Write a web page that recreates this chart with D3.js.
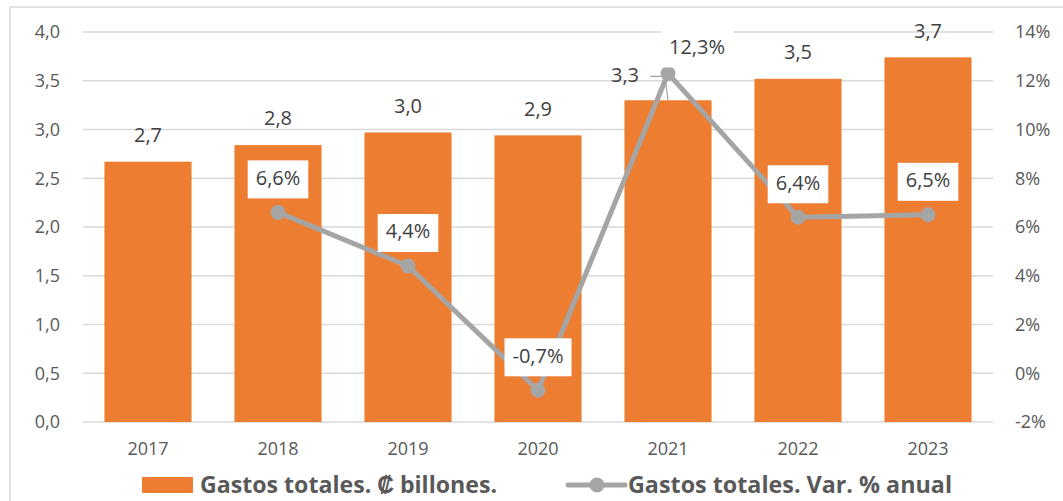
<!DOCTYPE html>
<html>
<head>
<meta charset="utf-8">
<script src="https://cdn.jsdelivr.net/npm/d3@7"></script>
<style>
  body { margin: 0; background: #fff; }
  text { font-family: "Open Sans", "Liberation Sans", Arial, sans-serif; }
</style>
</head>
<body>
<svg id="chart"></svg>
<script>
const years = ["2017", "2018", "2019", "2020", "2021", "2022", "2023"];
const gastos = [2.67, 2.84, 2.97, 2.94, 3.30, 3.52, 3.74];
const gastosLabels = ["2,7", "2,8", "3,0", "2,9", "3,3", "3,5", "3,7"];
const variacion = [null, 6.6, 4.4, -0.7, 12.3, 6.4, 6.5];
const variacionLabels = ["", "6,6%", "4,4%", "-0,7%", "12,3%", "6,4%", "6,5%"];
const leftTicks = [0, 0.5, 1, 1.5, 2, 2.5, 3, 3.5, 4];
const rightTicks = [-2, 0, 2, 4, 6, 8, 10, 12, 14];

const width = 1063;
const height = 501;
const orange = "#ed7d31";
const gray = "#a5a5a5";
const font = "Open Sans, Liberation Sans, Arial, sans-serif";

const svg = d3.select("#chart")
    .attr("width", width)
    .attr("height", height);

// marco del grafico
svg.append("path")
    .attr("d", `M10,${height} L10,7 L${width},7`)
    .attr("fill", "none")
    .attr("stroke", "#d9d9d9")
    .attr("stroke-width", 1.5);

const xScale = d3.scaleBand()
    .domain(years)
    .range([83, 993])
    .paddingInner(0.33)
    .paddingOuter(0.165);

const yLeft = d3.scaleLinear()
    .domain([0, 4])
    .range([422, 32]);

const yRight = d3.scaleLinear()
    .domain([-2, 14])
    .range([422, 32]);

const fmt1 = d => d3.format(".1f")(d).replace(".", ",");

// cuadricula
svg.append("g")
    .selectAll("line")
    .data(leftTicks)
    .enter()
    .append("line")
    .attr("x1", 83)
    .attr("x2", 993)
    .attr("y1", d => yLeft(d))
    .attr("y2", d => yLeft(d))
    .attr("stroke", "#d9d9d9")
    .attr("stroke-width", 1.5);

const styleAxis = g => {
    g.select(".domain").remove();
    g.selectAll("text")
        .attr("font-size", 18)
        .attr("font-family", font)
        .attr("fill", "#595959");
};

svg.append("g")
    .attr("transform", "translate(60,0)")
    .call(d3.axisLeft(yLeft).tickValues(leftTicks).tickFormat(fmt1).tickSize(0).tickPadding(0))
    .call(styleAxis);

svg.append("g")
    .attr("transform", "translate(1015,0)")
    .call(d3.axisRight(yRight).tickValues(rightTicks).tickFormat(d => d + "%").tickSize(0).tickPadding(0))
    .call(styleAxis);

svg.append("g")
    .attr("transform", "translate(0,442)")
    .call(d3.axisBottom(xScale).tickSize(0).tickPadding(0))
    .call(styleAxis);

// barras
svg.append("g")
    .selectAll("rect")
    .data(gastos)
    .enter()
    .append("rect")
    .attr("x", (d, i) => xScale(years[i]))
    .attr("y", d => yLeft(d))
    .attr("width", xScale.bandwidth())
    .attr("height", d => yLeft(0) - yLeft(d))
    .attr("fill", orange);

const cx = i => xScale(years[i]) + xScale.bandwidth() / 2;

// etiquetas de las barras (2021 va desplazada con linea guia)
svg.append("g")
    .selectAll("text")
    .data(gastos)
    .enter()
    .append("text")
    .attr("x", (d, i) => i === 4 ? cx(i) - 43 : cx(i))
    .attr("y", (d, i) => i === 4 ? yRight(variacion[4]) + 3 : yLeft(d) - 25)
    .attr("text-anchor", "middle")
    .attr("dominant-baseline", "middle")
    .attr("font-size", 20)
    .attr("fill", "#404040")
    .text((d, i) => gastosLabels[i]);

svg.append("polyline")
    .attr("points", `${cx(4) - 18},${yRight(variacion[4]) + 3} ${cx(4) - 3},${yRight(variacion[4]) + 3} ${cx(4)},${yLeft(gastos[4])}`)
    .attr("fill", "none")
    .attr("stroke", gray)
    .attr("stroke-width", 1.2);

// linea de variacion
const points = variacion.map((v, i) => ({ i, v })).filter(p => p.v !== null);

const line = d3.line()
    .x(p => cx(p.i))
    .y(p => yRight(p.v));

svg.append("path")
    .datum(points)
    .attr("d", line)
    .attr("fill", "none")
    .attr("stroke", gray)
    .attr("stroke-width", 5)
    .attr("stroke-linejoin", "round");

svg.append("g")
    .selectAll("circle")
    .data(points)
    .enter()
    .append("circle")
    .attr("cx", p => cx(p.i))
    .attr("cy", p => yRight(p.v))
    .attr("r", 7.5)
    .attr("fill", gray);

// etiquetas de la linea en cajas blancas
const lbl = svg.append("g")
    .selectAll("g")
    .data(points)
    .enter()
    .append("g")
    .attr("transform", p => p.i === 4
        ? `translate(${cx(p.i) + 29},${yRight(p.v) - 25})`
        : `translate(${cx(p.i)},${yRight(p.v) - 33})`);

lbl.append("rect")
    .attr("fill", "#fff");

lbl.append("text")
    .attr("text-anchor", "middle")
    .attr("dominant-baseline", "middle")
    .attr("font-size", 20)
    .attr("fill", "#404040")
    .text(p => variacionLabels[p.i]);

lbl.each(function() {
    const g = d3.select(this);
    const w = g.select("text").node().getComputedTextLength() + 16;
    g.select("rect")
        .attr("x", -w / 2)
        .attr("y", -19)
        .attr("width", w)
        .attr("height", 38);
});

// leyenda
const legend = svg.append("g");

legend.append("rect")
    .attr("x", 142)
    .attr("y", 477)
    .attr("width", 51)
    .attr("height", 16)
    .attr("fill", orange);

legend.append("text")
    .attr("x", 200)
    .attr("y", 493)
    .attr("font-size", 24)
    .attr("font-weight", "bold")
    .attr("font-family", "Liberation Sans Narrow, Arial Narrow, sans-serif")
    .attr("fill", "#595959")
    .attr("textLength", 297)
    .attr("lengthAdjust", "spacingAndGlyphs")
    .text("Gastos totales. ₡ billones.");

legend.append("line")
    .attr("x1", 568)
    .attr("x2", 625)
    .attr("y1", 485)
    .attr("y2", 485)
    .attr("stroke", gray)
    .attr("stroke-width", 5)
    .attr("stroke-linecap", "round");

legend.append("circle")
    .attr("cx", 597)
    .attr("cy", 485)
    .attr("r", 7.5)
    .attr("fill", gray);

legend.append("text")
    .attr("x", 628)
    .attr("y", 493)
    .attr("font-size", 24)
    .attr("font-weight", "bold")
    .attr("font-family", "Liberation Sans Narrow, Arial Narrow, sans-serif")
    .attr("fill", "#595959")
    .attr("textLength", 324)
    .attr("lengthAdjust", "spacingAndGlyphs")
    .text("Gastos totales. Var. % anual");
</script>
</body>
</html>
